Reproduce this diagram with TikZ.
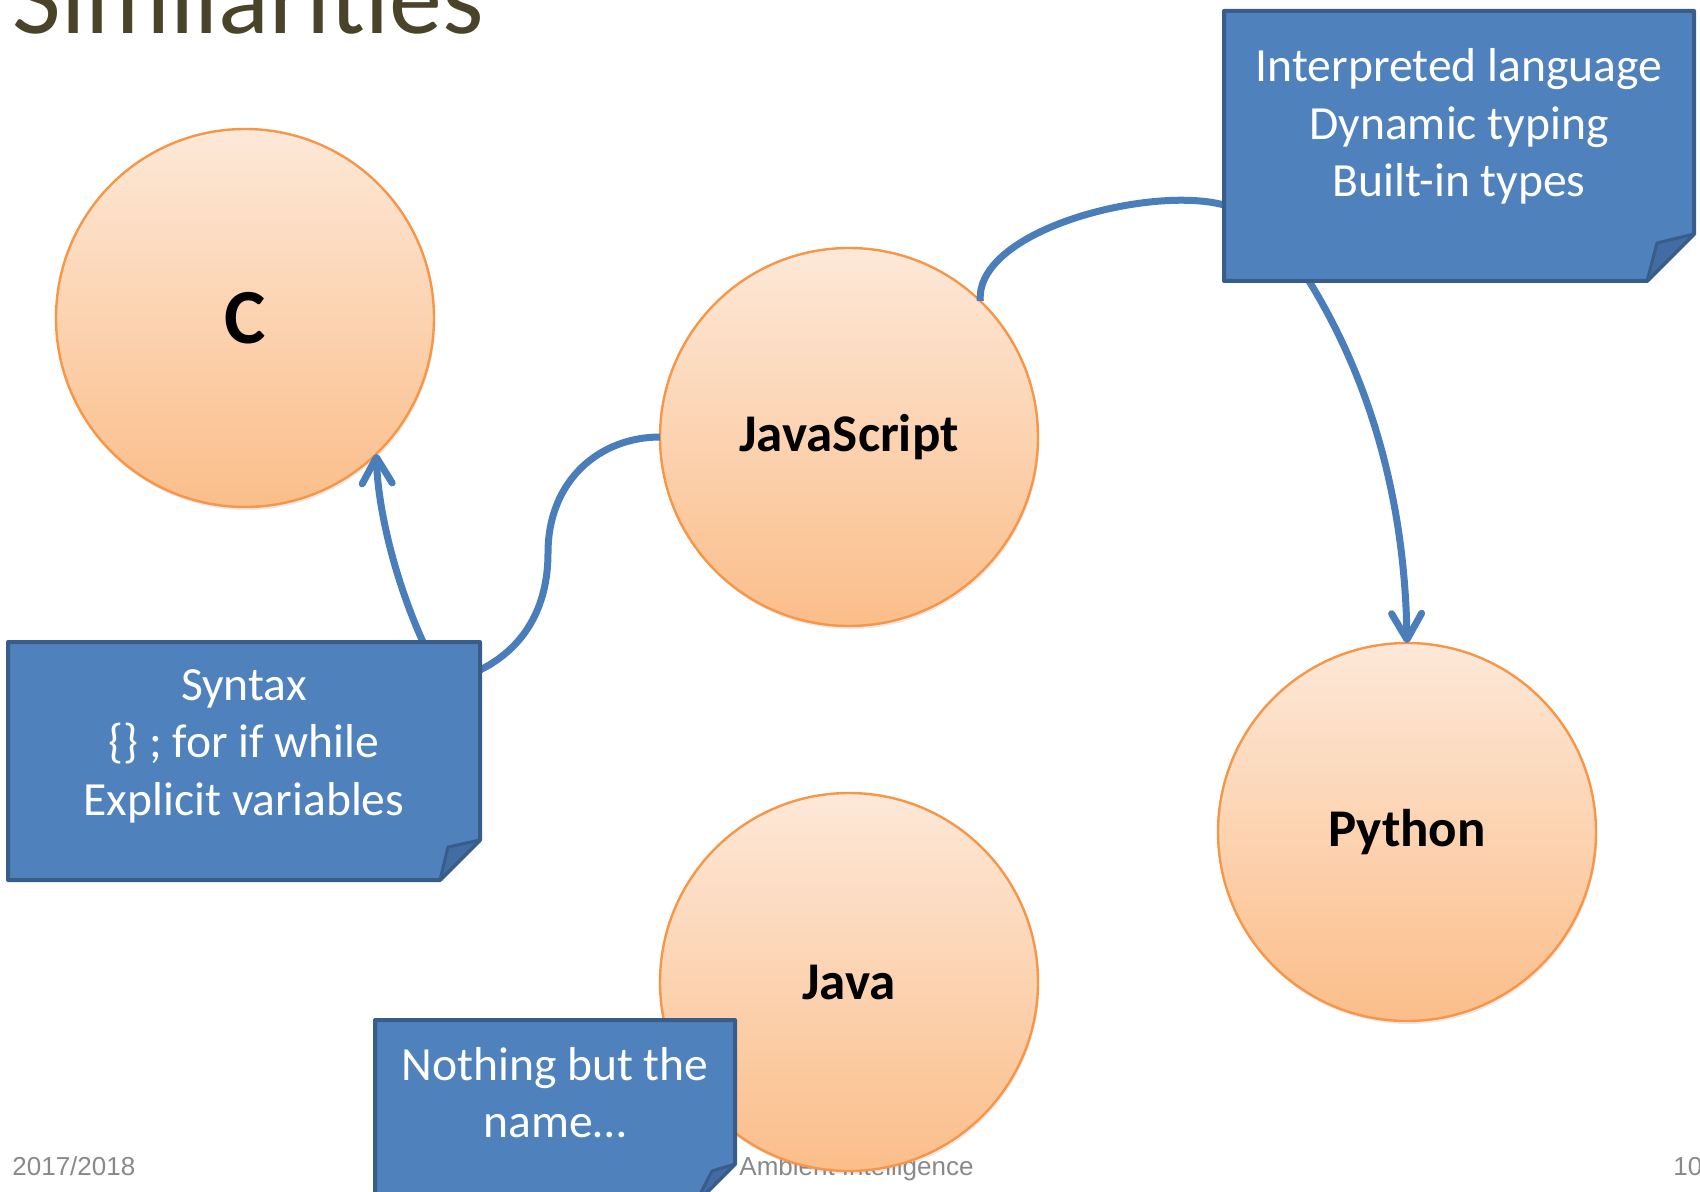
\documentclass[tikz,border=0pt]{standalone}
\usepackage{fontspec}
\setmainfont{Carlito}
\newfontfamily\footfont{Liberation Sans}
\usetikzlibrary{arrows.meta,shadows}
\definecolor{boxblue}{RGB}{79,129,189}
\definecolor{boxedge}{RGB}{56,93,138}
\definecolor{flapblue}{RGB}{66,108,162}
\definecolor{linkblue}{RGB}{74,126,187}
\definecolor{peachtop}{RGB}{253,232,216}
\definecolor{peachbot}{RGB}{251,190,138}
\definecolor{peachedge}{RGB}{247,150,70}
\definecolor{titlecol}{RGB}{73,68,41}
\definecolor{footgray}{RGB}{137,137,137}
\begin{document}
\begin{tikzpicture}[x=0.5pt,y=-0.5pt,
  lang/.style={circle, minimum size=189pt, inner sep=0pt, outer sep=0pt,
    draw=peachedge, line width=1.2pt, top color=peachtop, bottom color=peachbot,
    font=\fontsize{26.5}{30}\selectfont\bfseries, text=black,
    drop shadow={shadow xshift=0.6pt, shadow yshift=-1.5pt, opacity=0.18}},
  frame/.style={inner sep=0pt, outer sep=0pt, draw=none},
  note/.style={draw=boxedge, fill=boxblue, line width=2pt, line join=round},
  flap/.style={draw=boxedge, fill=flapblue, line width=1.5pt, line join=round},
  notetext/.style={text=white, font=\fontsize{23.8}{28.75}\selectfont, inner sep=0pt, anchor=base},
  link/.style={draw=linkblue, line width=3.5pt},
  tip/.style={-{Straight Barb[length=13pt,width=15pt,round]}},
  foot/.style={font=\footfont\fontsize{13}{15}\selectfont, text=footgray, anchor=base west, inner sep=0pt}
]
\useasboundingbox (0,0) rectangle (1700,1192);

% title
\node[anchor=base west, inner sep=0pt, text=titlecol, font=\fontsize{53}{60}\selectfont] (title) at (12,34) {Similarities};

% footer
\node[foot] (year) at (12,1175) {2017/2018};
\node[foot] (course) at (739,1175) {Ambient Intelligence};
\node[foot] (page) at (1673,1175) {10};

% circles
\node[lang, font=\fontsize{39}{44}\selectfont\bfseries] (c) at (245,318) {C};
\node[lang] (js) at (849,437) {JavaScript};
\node[lang] (java) at (849,982) {Java};
\node[lang] (py) at (1407,832) {Python};

% box frames
\node[frame, minimum width=235pt, minimum height=135pt] (interp) at (1459,146) {};
\node[frame, minimum width=236pt, minimum height=119pt] (syn) at (244,761) {};
\node[frame, minimum width=180pt, minimum height=92pt] (noth) at (555,1112) {};

% connectors
\draw[link,tip] ([xshift=207.5pt]syn.north west) .. controls (395,580) and (378,510) .. (c.-46);
\draw[link] ([yshift=-14pt]syn.north east) .. controls (530,645) and (548,600) .. (548,553)
   .. controls (548,480) and (600,437) .. (js.west);
\draw[link] (js.46) .. controls (975,230) and (1150,185) .. ([yshift=-29.5pt]interp.west);
\draw[link,tip] ([xshift=42.5pt]interp.south west) .. controls (1370,380) and (1405,500) .. (py.north);

% boxes
\draw[note] (interp.north west) -- (interp.north east) -- ([yshift=23.5pt]interp.south east)
   -- ([xshift=-23.5pt]interp.south east) -- (interp.south west) -- cycle;
\draw[flap] ([yshift=23.5pt]interp.south east) -- ([xshift=-18.5pt,yshift=19pt]interp.south east)
   -- ([xshift=-23.5pt]interp.south east) -- cycle;
\node[notetext] (interpT) at (1459,82) {\begin{tabular}[t]{@{}c@{}}Interpreted language\\Dynamic typing\\Built-in types\end{tabular}};

\draw[note] (syn.north west) -- (syn.north east) -- ([yshift=20pt]syn.south east)
   -- ([xshift=-20pt]syn.south east) -- (syn.south west) -- cycle;
\draw[flap] ([yshift=20pt]syn.south east) -- ([xshift=-16pt,yshift=16.5pt]syn.south east)
   -- ([xshift=-20pt]syn.south east) -- cycle;
\node[notetext] (synT) at (244,700) {\begin{tabular}[t]{@{}c@{}}Syntax\\\{\} ; for if while\\Explicit variables\end{tabular}};

\draw[note] (noth.north west) -- (noth.north east) -- ([yshift=20pt]noth.south east)
   -- ([xshift=-20pt]noth.south east) -- (noth.south west) -- cycle;
\draw[flap] ([yshift=20pt]noth.south east) -- ([xshift=-11.5pt,yshift=16.5pt]noth.south east)
   -- ([xshift=-20pt]noth.south east) -- cycle;
\node[notetext] (nothT) at (555,1080) {\begin{tabular}[t]{@{}c@{}}Nothing but the\\name\ldots\end{tabular}};
\end{tikzpicture}
\end{document}
